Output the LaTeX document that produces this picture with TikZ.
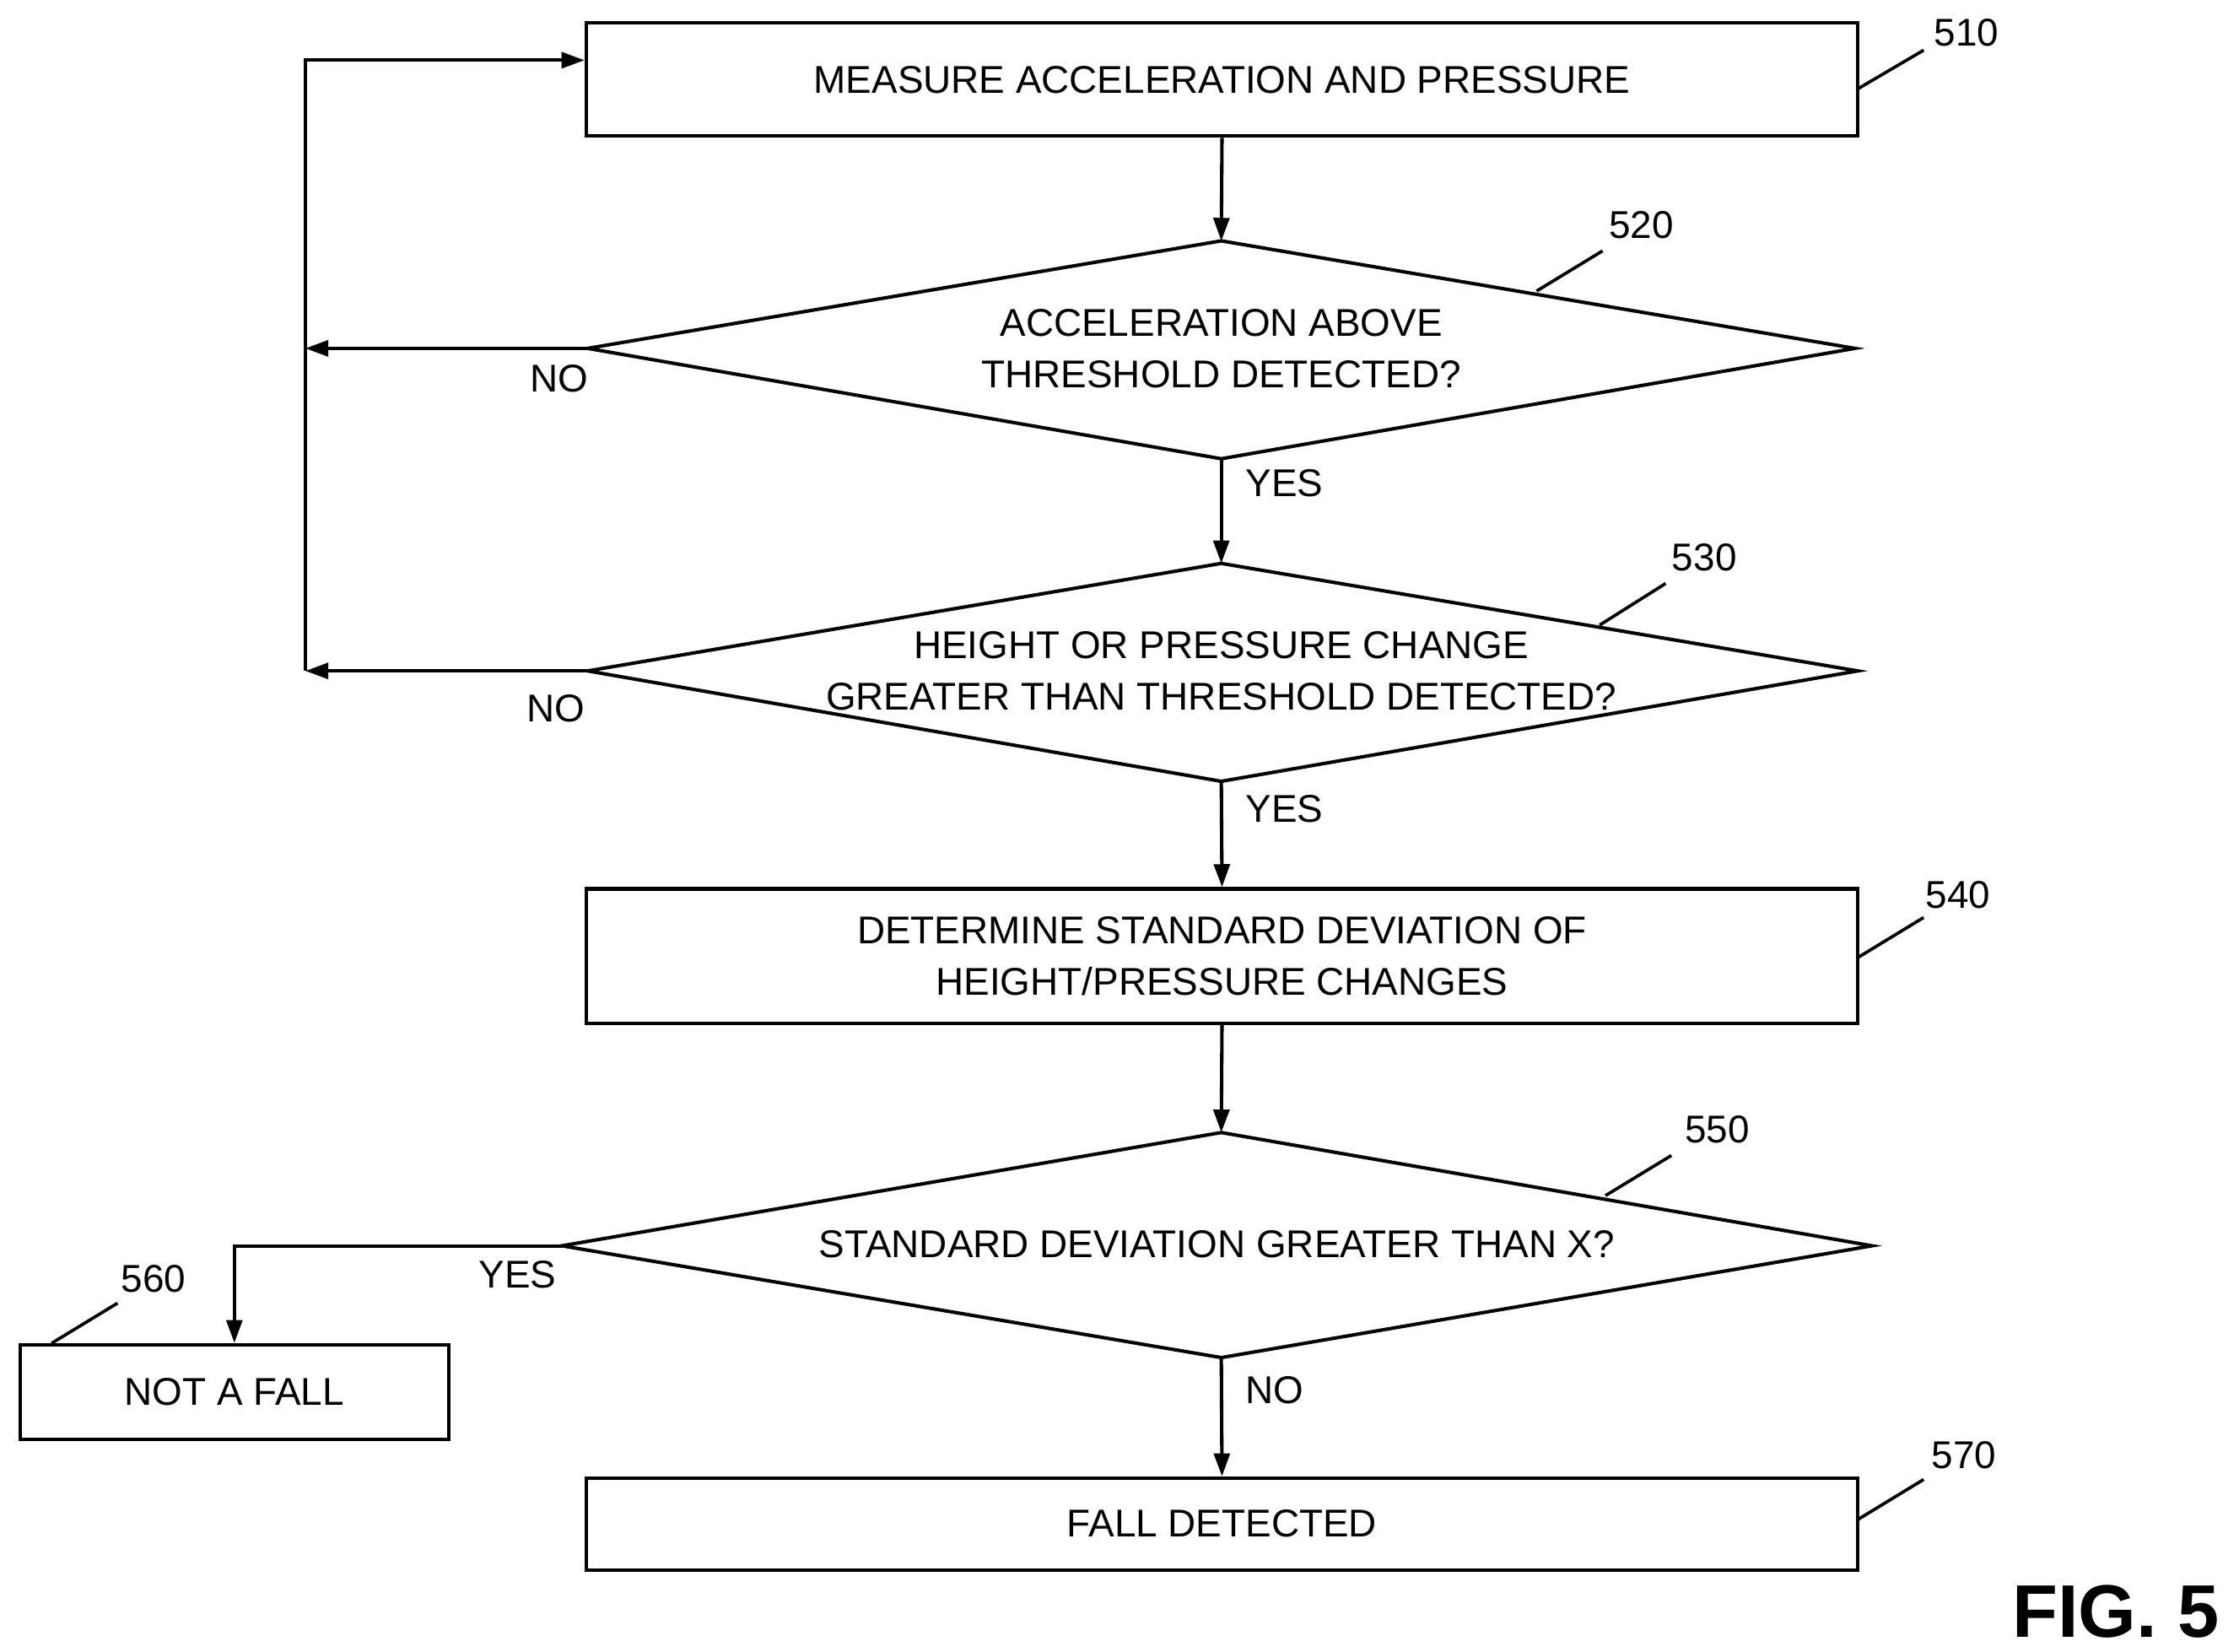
\documentclass[tikz,border=0pt]{standalone}
\usepackage{fontspec}
\setmainfont{Liberation Sans}
\usetikzlibrary{arrows.meta}
\begin{document}
\begin{tikzpicture}[x=1pt,y=-1pt,
  every node/.style={font=\fontsize{27}{36}\selectfont},
  ln/.style={line width=2.4pt},
  arr/.style={ln,-{Triangle[length=16pt,width=11pt]}},
  box/.style={draw,ln,rectangle,inner sep=0pt,align=center},
  lab/.style={inner sep=0pt},
  lead/.style={line width=2.2pt}]
\useasboundingbox (0,0) rectangle (1562,1152);
% boxes
\node[box,minimum width=887pt,minimum height=79pt] (b510) at (852.5,55.5) {MEASURE ACCELERATION AND PRESSURE};
\node[box,minimum width=887pt,minimum height=94pt] (b540) at (852.5,667) {DETERMINE STANDARD DEVIATION OF\\HEIGHT/PRESSURE CHANGES};
\node[box,minimum width=299pt,minimum height=66pt] (b560) at (163.5,971) {NOT A FALL};
\node[box,minimum width=887pt,minimum height=64pt] (b570) at (852.5,1063) {FALL DETECTED};
% diamonds
\coordinate (d1t) at (852,168); \coordinate (d1b) at (852,320);
\coordinate (d1l) at (410,243); \coordinate (d1r) at (1294,243);
\draw[ln,line join=miter] (d1t)--(d1r)--(d1b)--(d1l)--cycle;
\node[lab,align=center] (d1) at (852,243) {ACCELERATION ABOVE\\THRESHOLD DETECTED?};
\coordinate (d2t) at (852,393); \coordinate (d2b) at (852,545);
\coordinate (d2l) at (410,468); \coordinate (d2r) at (1296,468);
\draw[ln,line join=miter] (d2t)--(d2r)--(d2b)--(d2l)--cycle;
\node[lab,align=center] (d2) at (852,468) {HEIGHT OR PRESSURE CHANGE\\GREATER THAN THRESHOLD DETECTED?};
\coordinate (d3t) at (852,790); \coordinate (d3b) at (852,947);
\coordinate (d3l) at (392,869); \coordinate (d3r) at (1306,869);
\draw[ln,line join=miter] (d3t)--(d3r)--(d3b)--(d3l)--cycle;
\node[lab] (d3) at (849,868) {STANDARD DEVIATION GREATER THAN X?};
% loop
\coordinate (lp1) at (213,243); \coordinate (lp2) at (213,468); \coordinate (lpt) at (213,42);
\draw[arr] (b510.south) -- (d1t);
\draw[arr] (d1b) -- (d2t);
\draw[arr] (d2b) -- (b540.north);
\draw[arr] (b540.south) -- (d3t);
\draw[arr] (d3b) -- (b570.north);
\draw[arr] (d1l) -- (lp1);
\draw[arr] (d2l) -- (lp2);
\draw[arr] (lp2) -- (lpt) -- (b510.west |- lpt);
\draw[arr] (d3l) -| (b560.north);
% labels
\node[lab] (n1) at (390,264) {NO};
\node[lab] (n2) at (388,494) {NO};
\node[lab] (y1) at (896,337) {YES};
\node[lab] (y2) at (896,564) {YES};
\node[lab] (y3) at (361,889) {YES};
\node[lab] (n3) at (889,970) {NO};
% reference numerals
\node[lab] (r510) at (1372,23) {510};
\node[lab] (r520) at (1145,157) {520};
\node[lab] (r530) at (1189,389) {530};
\node[lab] (r540) at (1366,624) {540};
\node[lab] (r550) at (1198,788) {550};
\node[lab] (r560) at (107,892) {560};
\node[lab] (r570) at (1370,1015) {570};
\draw[lead] (1296,62) -- (1342,35);
\draw[lead] (1072,203) -- (1118,175);
\draw[lead] (1116,436) -- (1162,407);
\draw[lead] (1296,668) -- (1342,640);
\draw[lead] (1120,834) -- (1166,806);
\draw[lead] (36,937) -- (82,909);
\draw[lead] (1296,1060) -- (1342,1032);
\node[lab,font=\fontsize{52}{60}\selectfont\bfseries] (fig) at (1476,1124) {FIG. 5};
\end{tikzpicture}
\end{document}
